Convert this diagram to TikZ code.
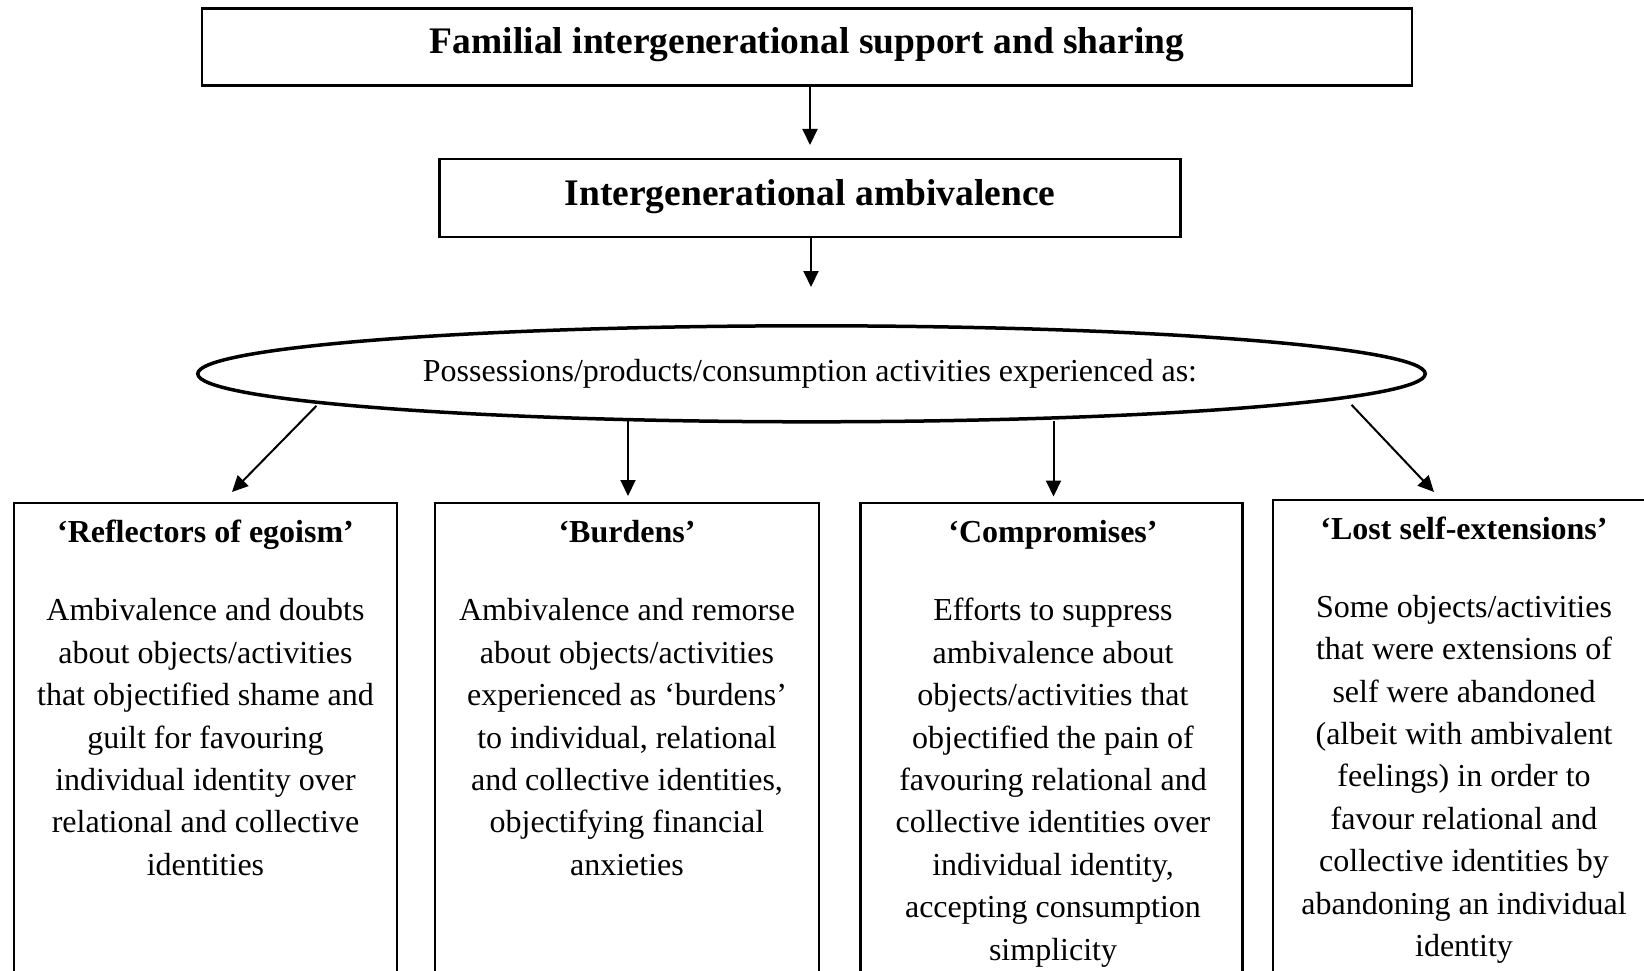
\documentclass[tikz,border=0pt]{standalone}
\usepackage{fontspec}
\setmainfont{Liberation Serif}
\usetikzlibrary{arrows.meta,shapes.geometric}
\tikzset{
  frame/.style={draw, line width=2.2pt, rectangle, inner sep=0pt},
  bigtitle/.style={font=\fontsize{37.5}{45}\selectfont\bfseries, inner sep=0pt, anchor=base},
  boxtitle/.style={font=\fontsize{32}{40}\selectfont\bfseries, inner sep=0pt, anchor=base},
  bodytext/.style={font=\fontsize{32}{42.4}\selectfont, align=center, inner sep=0pt, anchor=north},
  arr/.style={line width=2pt, -{Triangle[length=16pt,width=15pt]}},
}
\begin{document}
\begin{tikzpicture}[x=1pt,y=-1pt]
\clip (0,0) rectangle (1644,971);
\useasboundingbox (0,0) rectangle (1644,971);
\fill[white] (0,0) rectangle (1644,971);

% top boxes
\node[frame, line width=2.7pt, minimum width=1210pt, minimum height=77.4pt] (top) at (807,47) {};
\node[bigtitle] (topT) at (807,54) {Familial intergenerational support and sharing};
\node[frame, minimum width=741pt, minimum height=78pt] (mid) at (810,198.3) {};
\node[bigtitle] (midT) at (810,205) {Intergenerational ambivalence};

% ellipse
\node[draw, ellipse, line width=3.5pt, minimum width=1227.5pt, minimum height=96pt, inner sep=0pt] (ell) at (811.5,373.8) {};
\node[font=\fontsize{32}{40}\selectfont, inner sep=0pt, anchor=base] (ellT) at (810,381) {Possessions/products/consumption activities experienced as:};

% bottom boxes
\node[frame, minimum width=383pt, minimum height=600pt, anchor=north] (b1) at (205.5,502) {};
\node[frame, minimum width=384pt, minimum height=600pt, anchor=north] (b2) at (627,502) {};
\node[frame, minimum width=382pt, minimum height=600pt, anchor=north] (b3) at (1051.5,502) {};
\node[frame, minimum width=382pt, minimum height=600pt, anchor=north] (b4) at (1464,499) {};

\node[boxtitle] (b1T) at (205.5,542.5) {‘Reflectors of egoism’};
\node[boxtitle] (b2T) at (627,542.5) {‘Burdens’};
\node[boxtitle] (b3T) at (1053,542.5) {‘Compromises’};
\node[boxtitle] (b4T) at (1464,539.5) {‘Lost self-extensions’};

\node[bodytext] (b1B) at (205.5,591) {\strut Ambivalence and doubts\\about objects/activities\\that objectified shame and\\guilt for favouring\\individual identity over\\relational and collective\\identities};
\node[bodytext] (b2B) at (627,591) {\strut Ambivalence and remorse\\about objects/activities\\experienced as ‘burdens’\\to individual, relational\\and collective identities,\\objectifying financial\\anxieties};
\node[bodytext] (b3B) at (1053,591) {\strut Efforts to suppress\\ambivalence about\\objects/activities that\\objectified the pain of\\favouring relational and\\collective identities over\\individual identity,\\accepting consumption\\simplicity};
\node[bodytext] (b4B) at (1464,587.5) {\strut Some objects/activities\\that were extensions of\\self were abandoned\\(albeit with ambivalent\\feelings) in order to\\favour relational and\\collective identities by\\abandoning an individual\\identity};

% connectors
\coordinate (t1) at (810,145);
\coordinate (t2) at (811,287);
\draw[arr] (top.south -| t1) -- (t1);
\draw[arr] (mid.south -| t2) -- (t2);

\coordinate (sa) at ([shift={(-495,32)}]ell.center);
\coordinate (ta) at (232,492);
\coordinate (sd) at ([shift={(540,31)}]ell.center);
\coordinate (td) at (1434,492);
\coordinate (tb) at (628,496);
\coordinate (tc) at (1053.5,496.5);
\draw[arr] (sa) -- (ta);
\draw[arr] ([yshift=3pt]ell.south -| tb) -- (tb);
\draw[arr] ([yshift=3pt]ell.south -| tc) -- (tc);
\draw[arr] (sd) -- (td);
\end{tikzpicture}
\end{document}
